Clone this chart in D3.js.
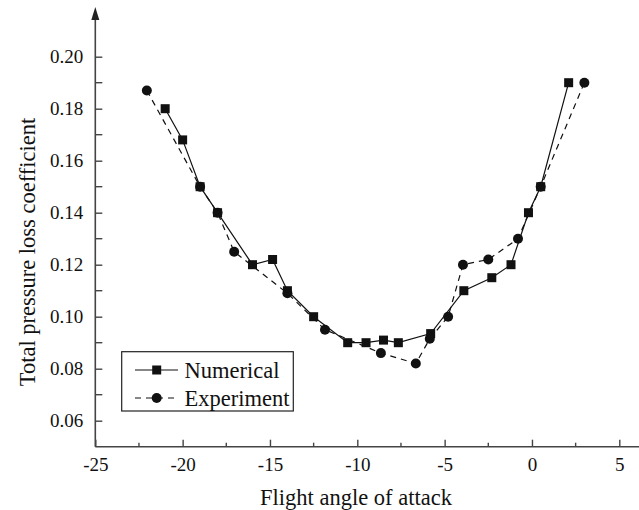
<!DOCTYPE html>
<html>
<head>
<meta charset="utf-8">
<script src="https://cdn.jsdelivr.net/npm/d3@7"></script>
<style>
  body { margin: 0; background: #fff; }
  svg text { font-family: "Liberation Serif", "Times New Roman", serif; fill: #111; }
</style>
</head>
<body>
<div id="chart"></div>
<script>
// data
var numX = [-21, -20, -19, -18, -16, -14.85, -14, -12.5, -10.55, -9.5, -8.5, -7.65, -5.8, -3.9, -2.3, -1.2, -0.2, 0.5, 2.1];
var numY = [0.180, 0.168, 0.150, 0.140, 0.120, 0.122, 0.110, 0.100, 0.090, 0.090, 0.091, 0.090, 0.0935, 0.110, 0.115, 0.120, 0.140, 0.150, 0.190];

var expX = [-22.05, -19, -18, -17.05, -14, -11.85, -8.65, -6.65, -5.85, -4.8, -3.95, -2.5, -0.8, 0.5, 3.0];
var expY = [0.187, 0.150, 0.140, 0.125, 0.109, 0.095, 0.086, 0.082, 0.0915, 0.100, 0.120, 0.122, 0.130, 0.150, 0.190];

var xMajor = [-25, -20, -15, -10, -5, 0, 5];
var xMinor = [-22.5, -17.5, -12.5, -7.5, -2.5, 2.5];
var yLabels = [0.06, 0.08, 0.10, 0.12, 0.14, 0.16, 0.18, 0.20];
var yMinor = [0.07, 0.09, 0.11, 0.13, 0.15, 0.17, 0.19];

var seriesNames = ["Numerical", "Experiment"];

var W = 639, H = 510;
var x0 = 95.3, yBase = 446.7;
var serif = "'Liberation Serif', 'Times New Roman', serif";

var x = d3.scaleLinear().domain([-25, 5]).range([x0, 619.3]);
var y = d3.scaleLinear().domain([0.05, 0.20]).range([yBase, 56.7]);

var svg = d3.select("#chart").append("svg")
    .attr("width", W)
    .attr("height", H);

var axisColor = "#444";

// x axis: ticks point up into the plot
var xAxis = svg.append("g")
    .attr("transform", "translate(0," + yBase + ")")
    .call(d3.axisBottom(x).tickValues(xMajor).tickSize(-7).tickPadding(11)
        .tickFormat(d3.format("d")));
xAxis.attr("font-family", serif);
xAxis.select(".domain").remove();
xAxis.append("line")
    .attr("x1", x0).attr("x2", W)
    .attr("stroke", axisColor).attr("stroke-width", 1.6);
xAxis.selectAll(".tick line").attr("stroke", axisColor).attr("stroke-width", 1.4);
xAxis.selectAll(".tick text")
    .style("font-family", serif).style("font-size", "19px").attr("fill", "#111")
    .text(function(d) { return d < 0 ? "-" + Math.abs(d) : d; });

svg.append("g").selectAll("line")
    .data(xMinor)
    .enter().append("line")
    .attr("x1", function(d) { return x(d); })
    .attr("x2", function(d) { return x(d); })
    .attr("y1", yBase).attr("y2", yBase - 4)
    .attr("stroke", axisColor).attr("stroke-width", 1.4);

// y axis: ticks point right
var yAxis = svg.append("g")
    .attr("transform", "translate(" + x0 + ",0)")
    .call(d3.axisLeft(y).tickValues(yLabels).tickSize(-7).tickPadding(12)
        .tickFormat(d3.format(".2f")));
yAxis.attr("font-family", serif);
yAxis.select(".domain").remove();
yAxis.append("line")
    .attr("y1", yBase).attr("y2", 16)
    .attr("stroke", axisColor).attr("stroke-width", 1.6);
yAxis.append("path")
    .attr("d", "M0,7 L-4,20 L4,20 Z")
    .attr("fill", "#222");
yAxis.selectAll(".tick line").attr("stroke", axisColor).attr("stroke-width", 1.4);
yAxis.selectAll(".tick text")
    .style("font-family", serif).style("font-size", "19px").attr("fill", "#111");

svg.append("g").selectAll("line")
    .data(yMinor)
    .enter().append("line")
    .attr("x1", x0).attr("x2", x0 + 7)
    .attr("y1", function(d) { return y(d); })
    .attr("y2", function(d) { return y(d); })
    .attr("stroke", axisColor).attr("stroke-width", 1.4);

// axis titles
svg.append("text")
    .attr("x", 356).attr("y", 505)
    .attr("text-anchor", "middle")
    .style("font-size", "22.5px")
    .text("Flight angle of attack");

svg.append("text")
    .attr("transform", "translate(35,252) rotate(-90)")
    .attr("text-anchor", "middle")
    .style("font-size", "22.5px")
    .text("Total pressure loss coefficient");

// series
var expPts = expX.map(function(d, i) { return [d, expY[i]]; });
var numPts = numX.map(function(d, i) { return [d, numY[i]]; });

var line = d3.line().x(function(d) { return x(d[0]); }).y(function(d) { return y(d[1]); });

svg.append("path")
    .datum(expPts)
    .attr("d", line)
    .attr("fill", "none")
    .attr("stroke", "#111")
    .attr("stroke-width", 1.2)
    .attr("stroke-dasharray", "6,5");

svg.append("g").selectAll("circle")
    .data(expPts)
    .enter().append("circle")
    .attr("cx", function(d) { return x(d[0]); })
    .attr("cy", function(d) { return y(d[1]); })
    .attr("r", 5)
    .attr("fill", "#111");

svg.append("path")
    .datum(numPts)
    .attr("d", line)
    .attr("fill", "none")
    .attr("stroke", "#111")
    .attr("stroke-width", 1.2);

var sq = 9;
svg.append("g").selectAll("rect")
    .data(numPts)
    .enter().append("rect")
    .attr("x", function(d) { return x(d[0]) - sq / 2; })
    .attr("y", function(d) { return y(d[1]) - sq / 2; })
    .attr("width", sq).attr("height", sq)
    .attr("fill", "#111");

// legend
var legend = svg.append("g");
legend.append("rect")
    .attr("x", 121.7).attr("y", 351.7)
    .attr("width", 171.6).attr("height", 59.3)
    .attr("fill", "#fff")
    .attr("stroke", "#222").attr("stroke-width", 1.2);

var rows = legend.selectAll(".row")
    .data(seriesNames)
    .enter().append("g")
    .attr("class", "row")
    .attr("transform", function(d, i) { return "translate(0," + (370 + i * 28) + ")"; });

rows.append("line")
    .attr("x1", 135).attr("x2", 178)
    .attr("stroke", "#111").attr("stroke-width", 1.2)
    .attr("stroke-dasharray", function(d, i) { return i === 0 ? null : "6,5"; });

rows.each(function(d, i) {
    var g = d3.select(this);
    if (i === 0) {
        g.append("rect").attr("x", 156.7 - sq / 2).attr("y", -sq / 2)
            .attr("width", sq).attr("height", sq).attr("fill", "#111");
    } else {
        g.append("circle").attr("cx", 156.7).attr("r", 5).attr("fill", "#111");
    }
});

rows.append("text")
    .attr("x", 184.5)
    .attr("dy", "0.35em")
    .style("font-size", "22.5px")
    .text(function(d) { return d; });
</script>
</body>
</html>
